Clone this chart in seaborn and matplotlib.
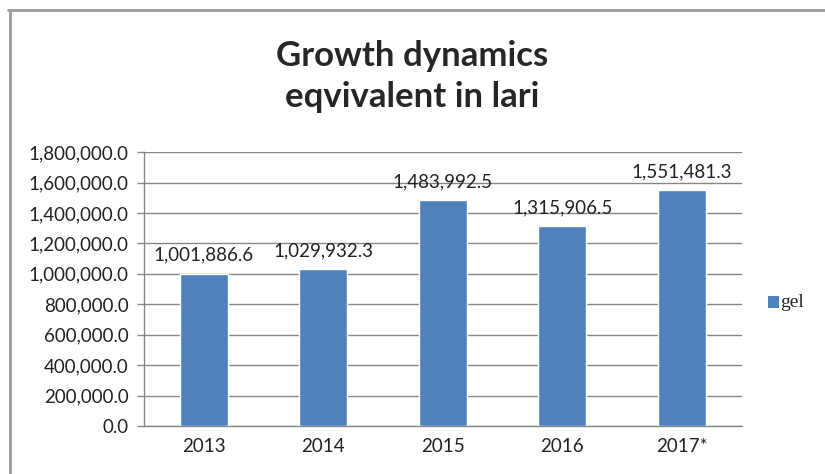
"""
Growth dynamics, eqvivalent in lari: yearly bar chart with value labels.
"""
import numpy as np
import pandas as pd
import seaborn as sns
from matplotlib import pyplot as plt
from matplotlib.lines import Line2D
from matplotlib.patches import Rectangle

# data
years = ["2013", "2014", "2015", "2016", "2017*"]
gel_values = [1001886.6, 1029932.3, 1483992.5, 1315906.5, 1551481.3]
y_ticks = [0, 200000, 400000, 600000, 800000, 1000000, 1200000, 1400000, 1600000, 1800000]

df = pd.DataFrame({"year": years, "gel": gel_values})

sns.set_style("white")
plt.rcParams['font.family'] = ['Lato', 'DejaVu Sans']

fig = plt.figure(figsize=(8.25, 4.74), dpi=100)
ax = fig.add_axes([0.1745, 0.1013, 0.7245, 0.5777])

sns.barplot(data=df, x="year", y="gel", color="#4F81BD", width=0.4,
            saturation=1, ax=ax, zorder=3)

# 数值标签
for i, v in enumerate(gel_values):
    ax.annotate(f"{v:,.1f}", (i, v), xytext=(0, 7), textcoords="offset points",
                ha="center", va="bottom", fontsize=13.5, color="#222222")

ax.set_ylim(0, 1800000)
ax.set_xlim(-0.5, 4.5)
ax.set_yticks(y_ticks)
ax.set_yticklabels([f"{t:,.1f}" for t in y_ticks], fontsize=13.5, color="#222222")
ax.set_xticklabels(years, fontsize=13.5, color="#222222")
ax.set_xticks(np.arange(-0.5, 5, 1), minor=True)
ax.tick_params(axis="x", which="major", length=0, pad=9)
ax.tick_params(axis="x", which="minor", length=5, color="#868686", width=1)
ax.tick_params(axis="y", length=5, color="#868686", width=1, left=True, pad=6)
ax.yaxis.grid(True, color="#868686", linewidth=1, zorder=0)
ax.set_axisbelow(True)
ax.set_xlabel("")
ax.set_ylabel("")
for side in ["top", "right"]:
    ax.spines[side].set_visible(False)
for side in ["left", "bottom"]:
    ax.spines[side].set_color("#868686")
    ax.spines[side].set_linewidth(1)

# 标题
fig.text(0.5, 0.838, "Growth dynamics\neqvivalent in lari", ha="center", va="center",
         fontsize=25, fontweight="bold", linespacing=1.35)

# 图例
fig.patches.append(Rectangle((0.931, 0.35), 0.013, 0.026, transform=fig.transFigure,
                             facecolor="#4F81BD", edgecolor="none"))
fig.text(0.946, 0.362, "gel", fontsize=14, va="center", ha="left",
         family=["Liberation Serif"])

# 外框
fig.add_artist(Line2D([0.01, 1.0], [0.978, 0.978], transform=fig.transFigure,
                      color="#9a9a9a", linewidth=2))
fig.add_artist(Line2D([0.012, 0.012], [0.0, 0.978], transform=fig.transFigure,
                      color="#9a9a9a", linewidth=2))

plt.savefig("out.png", dpi=100)
